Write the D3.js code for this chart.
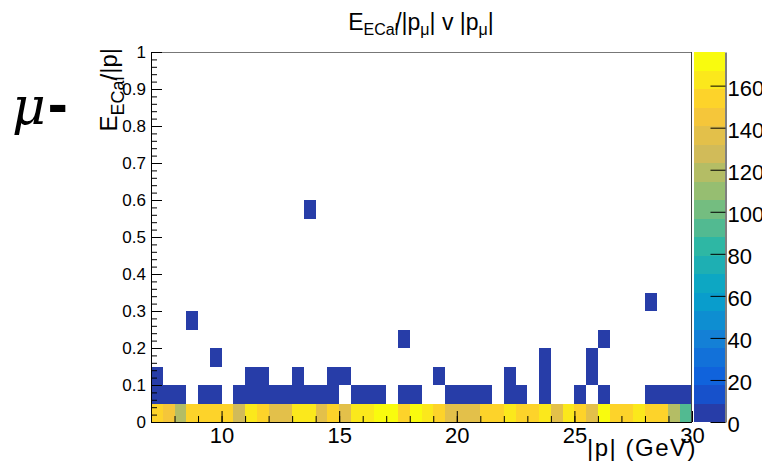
<!DOCTYPE html>
<html>
<head>
<meta charset="utf-8">
<script src="https://cdn.jsdelivr.net/npm/d3@7"></script>
<style>
  body { margin: 0; background: #fff; }
  svg { display: block; }
  text { font-family: "Liberation Sans", Arial, Helvetica, sans-serif; fill: #000; }
</style>
</head>
<body>
<svg id="chart" width="762" height="462"></svg>
<script>
// lower x edges of the 0 - 0.05 row (0.5 GeV bins)
const xLowEdges = [7, 7.5, 8, 8.5, 9, 9.5, 10, 10.5, 11, 11.5, 12, 12.5, 13, 13.5, 14, 14.5,
  15, 15.5, 16, 16.5, 17, 17.5, 18, 18.5, 19, 19.5, 20, 20.5, 21, 21.5, 22, 22.5,
  23, 23.5, 24, 24.5, 25, 25.5, 26, 26.5, 27, 27.5, 28, 28.5, 29, 29.5];
// entries in the 0 - 0.05 row
const bottomRowCounts = [150, 146, 120, 152, 150, 155, 150, 130, 160, 152, 138, 140, 166, 163, 138, 152,
  140, 162, 165, 170, 168, 152, 168, 165, 150, 140, 138, 140, 150, 152, 160, 155,
  155, 160, 138, 162, 152, 138, 175, 155, 155, 160, 150, 155, 122, 95];

// the sparse cells above the bottom row: lower x edge, lower y edge, entries
const cellX = [7, 7.5, 8, 9, 9.5, 10.5, 11, 11.5, 12, 12.5, 13, 13.5, 14, 14.5, 15.5, 16, 16.5,
  17.5, 18, 19.5, 20, 20.5, 21, 22, 22.5, 23.5, 25, 26, 28, 28.5, 29, 29.5,
  7, 11, 11.5, 13, 14.5, 15, 19, 22, 23.5, 25.5,
  9.5, 23.5, 25.5,
  17.5, 26,
  8.5,
  28,
  13.5];
const cellY = [0.05, 0.05, 0.05, 0.05, 0.05, 0.05, 0.05, 0.05, 0.05, 0.05, 0.05, 0.05, 0.05, 0.05, 0.05, 0.05, 0.05,
  0.05, 0.05, 0.05, 0.05, 0.05, 0.05, 0.05, 0.05, 0.05, 0.05, 0.05, 0.05, 0.05, 0.05, 0.05,
  0.1, 0.1, 0.1, 0.1, 0.1, 0.1, 0.1, 0.1, 0.1, 0.1,
  0.15, 0.15, 0.15,
  0.2, 0.2,
  0.25,
  0.3,
  0.55];
const cellN = [3, 2, 2, 1, 2, 3, 4, 2, 3, 2, 3, 2, 3, 2, 2, 3, 2,
  2, 1, 3, 2, 2, 3, 2, 1, 2, 1, 2, 3, 2, 2, 3,
  1, 1, 2, 1, 1, 1, 1, 1, 1, 1,
  1, 1, 1,
  1, 1,
  1,
  1,
  1];

const xBinWidth = 0.5, yBinWidth = 0.05;
const xMajorTicks = [10, 15, 20, 25, 30];
const yMajorTicks = [0, 0.1, 0.2, 0.3, 0.4, 0.5, 0.6, 0.7, 0.8, 0.9, 1];
const zTicks = [0, 20, 40, 60, 80, 100, 120, 140, 160];
const zMax = 176, nLevels = 20;

// ROOT kBird palette stops
const birdStops = [0, 0.125, 0.25, 0.375, 0.5, 0.625, 0.75, 0.875, 1];
const birdR = [0.2082, 0.0592, 0.0780, 0.0232, 0.1802, 0.5301, 0.8186, 0.9956, 0.9764];
const birdG = [0.1664, 0.3599, 0.5041, 0.6419, 0.7178, 0.7492, 0.7328, 0.7862, 0.9832];
const birdB = [0.5293, 0.8684, 0.8385, 0.7914, 0.6425, 0.4662, 0.3499, 0.1968, 0.0539];

const svg = d3.select("#chart");
const frameL = 151, frameR = 692, frameT = 52, frameB = 422;

const x = d3.scaleLinear().domain([7, 30]).range([frameL, frameR]);
const y = d3.scaleLinear().domain([0, 1]).range([frameB, frameT]);
const zAxisScale = d3.scaleLinear().domain([0, zMax]).range([frameB, frameT]);

const birdColor = d3.scaleLinear().domain(birdStops)
  .range(birdStops.map((s, i) => d3.rgb(birdR[i] * 255, birdG[i] * 255, birdB[i] * 255)))
  .interpolate(d3.interpolateRgb);
// colour of a contour level, picked like ROOT does from 255 palette colours
function levelColor(i) {
  const idx = Math.floor((i + 0.99) * 255 / nLevels);
  return birdColor(Math.min(idx, 254) / 254);
}
function countColor(n) {
  const lvl = Math.min(nLevels - 1, Math.floor(n / zMax * nLevels + 0.01));
  return levelColor(lvl);
}

// all cells
const cells = xLowEdges.map((x0, i) => ({ x0: x0, y0: 0, n: bottomRowCounts[i] }))
  .concat(cellX.map((x0, i) => ({ x0: x0, y0: cellY[i], n: cellN[i] })));

svg.append("g").selectAll("rect")
  .data(cells)
  .enter().append("rect")
  .attr("x", d => x(d.x0))
  .attr("y", d => y(d.y0 + yBinWidth))
  .attr("width", d => x(d.x0 + xBinWidth) - x(d.x0))
  .attr("height", d => y(d.y0) - y(d.y0 + yBinWidth))
  .attr("fill", d => countColor(d.n))
  .attr("shape-rendering", "crispEdges");

// frame
svg.append("line").attr("x1", frameL).attr("x2", frameR).attr("y1", frameT + 0.5).attr("y2", frameT + 0.5)
  .attr("stroke", "#777").attr("stroke-width", 1);
svg.append("line").attr("x1", frameR - 0.5).attr("x2", frameR - 0.5).attr("y1", frameT).attr("y2", frameB)
  .attr("stroke", "#444").attr("stroke-width", 1);

// x axis: major + minor ticks drawn inward
const xMinor = svg.append("g").attr("transform", `translate(0,${frameB})`)
  .call(d3.axisBottom(x).tickValues(d3.range(7, 31, 1)).tickSizeInner(-6).tickSizeOuter(0).tickFormat(""));
const xMajor = svg.append("g").attr("transform", `translate(0,${frameB})`)
  .call(d3.axisBottom(x).tickValues(xMajorTicks).tickSizeInner(-11).tickSizeOuter(0).tickPadding(5));
[xMinor, xMajor].forEach(g => g.select(".domain").remove());
svg.append("line").attr("x1", frameL).attr("x2", frameR).attr("y1", frameB + 0.5).attr("y2", frameB + 0.5)
  .attr("stroke", "#000");
xMajor.selectAll("text").attr("font-size", 22).attr("font-family", null);

// y axis
const yMinor = svg.append("g").attr("transform", `translate(${frameL},0)`)
  .call(d3.axisLeft(y).tickValues(d3.range(0, 1.001, 0.02)).tickSizeInner(-6).tickSizeOuter(0).tickFormat(""));
const yMajor = svg.append("g").attr("transform", `translate(${frameL},0)`)
  .call(d3.axisLeft(y).tickValues(yMajorTicks).tickSizeInner(-11).tickSizeOuter(0).tickPadding(5)
    .tickFormat(d => d === 0 || d === 1 ? d3.format("d")(d) : d3.format(".1f")(d)));
[yMinor, yMajor].forEach(g => g.select(".domain").remove());
svg.append("line").attr("x1", frameL + 0.5).attr("x2", frameL + 0.5).attr("y1", frameT).attr("y2", frameB)
  .attr("stroke", "#000");
yMajor.selectAll("text").attr("font-size", 17).attr("font-family", null);
svg.selectAll(".tick line").attr("stroke", "#000");

// colour palette
const palLeft = 694, palRight = 725;
svg.append("g").selectAll("rect")
  .data(d3.range(nLevels))
  .enter().append("rect")
  .attr("x", palLeft)
  .attr("width", palRight - palLeft)
  .attr("y", i => zAxisScale((i + 1) * zMax / nLevels))
  .attr("height", i => zAxisScale(i * zMax / nLevels) - zAxisScale((i + 1) * zMax / nLevels))
  .attr("fill", i => levelColor(i))
  .attr("shape-rendering", "crispEdges");
const zAxis = svg.append("g").attr("transform", `translate(${palRight + 0.5},0)`)
  .call(d3.axisRight(zAxisScale).tickValues(zTicks).tickSizeInner(-15).tickSizeOuter(0).tickPadding(2));
zAxis.select(".domain").attr("stroke", "#000");
zAxis.selectAll("text").attr("font-size", 22).attr("font-family", null).attr("dy", "0.45em");

// titles
const title = svg.append("text").attr("x", 421).attr("y", 30).attr("text-anchor", "middle").attr("font-size", 23);
title.append("tspan").text("E");
title.append("tspan").attr("font-size", 16).attr("dy", 5).text("ECal");
title.append("tspan").attr("dy", -5).attr("dx", -3).text("/|p");
title.append("tspan").attr("font-size", 16).attr("dy", 5).text("μ");
title.append("tspan").attr("dy", -5).text("| v |p");
title.append("tspan").attr("font-size", 16).attr("dy", 5).text("μ");
title.append("tspan").attr("dy", -5).text("|");

const yTitle = svg.append("text").attr("transform", "translate(117,48) rotate(-90)")
  .attr("text-anchor", "end").attr("font-size", 24);
yTitle.append("tspan").text("E");
yTitle.append("tspan").attr("font-size", 18).attr("dy", 7).text("ECal");
yTitle.append("tspan").attr("dy", -7).attr("dx", -4).text("/|p|");

svg.append("text").attr("x", 697).attr("y", 456).attr("text-anchor", "end").attr("font-size", 24)
  .attr("letter-spacing", 1.5).text("|p| (GeV)");

const mu = svg.append("text").attr("x", 12).attr("y", 124).attr("font-size", 52);
mu.append("tspan").attr("font-style", "italic").attr("font-family", "'DejaVu Serif', serif").text("μ");
mu.append("tspan").attr("font-weight", "bold").attr("font-size", 60).attr("dx", 2).text("-");
</script>
</body>
</html>
